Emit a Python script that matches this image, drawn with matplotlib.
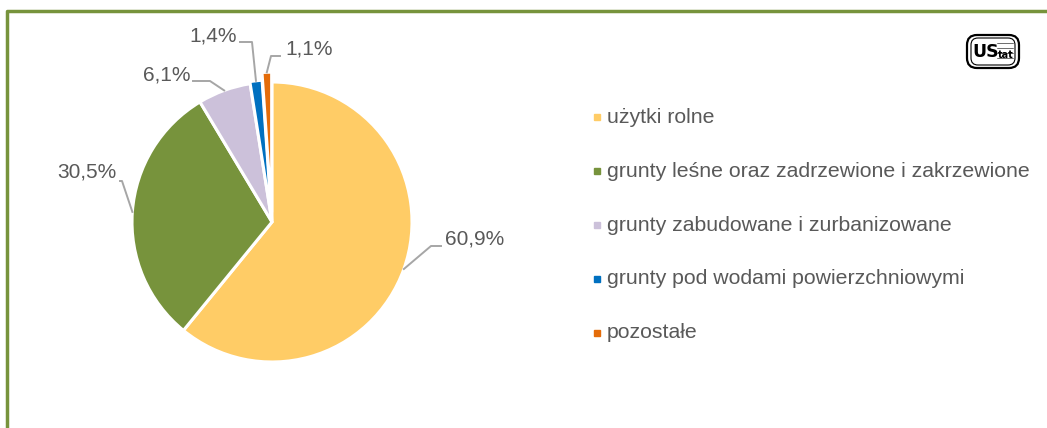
"""
Land use structure pie chart — recreated with matplotlib.
"""

import numpy as np
import matplotlib
matplotlib.use("Agg")
import matplotlib.pyplot as plt
from matplotlib.patches import FancyBboxPatch, Rectangle

plt.rcParams["font.family"] = ["Liberation Sans", "DejaVu Sans"]

# data
categories = [
    "użytki rolne",
    "grunty leśne oraz zadrzewione i zakrzewione",
    "grunty zabudowane i zurbanizowane",
    "grunty pod wodami powierzchniowymi",
    "pozostałe",
]
shares = [60.9, 30.5, 6.1, 1.4, 1.1]
value_labels = ["60,9%", "30,5%", "6,1%", "1,4%", "1,1%"]
colors = ["#FFCC66", "#77933C", "#CCC1DA", "#0070C0", "#E46C0A"]
explode = [0, 0, 0, 0.015, 0.07]   # fraction of radius

W, H = 1047, 428
TEXT = "#595959"
LEADER = "#A6A6A6"
FRAME = "#77933C"

fig = plt.figure(figsize=(W / 100, H / 100), dpi=100)
ax = fig.add_axes([0, 0, 1, 1])
ax.set_xlim(0, W)
ax.set_ylim(0, H)
ax.set_aspect("equal")
ax.axis("off")

# frame (top and left green lines)
ax.plot([7, 7, W], [0, H - 11, H - 11], color=FRAME, lw=2.5, solid_capstyle="butt")

cx, cy, r = 272, H - 222, 140
wedges, _ = ax.pie(
    shares, colors=colors, startangle=90, counterclock=False,
    radius=r, center=(cx, cy), explode=[e * r for e in explode],
    wedgeprops=dict(edgecolor="white", linewidth=2.2),
)
ax.set_xlim(0, W)
ax.set_ylim(0, H)

# leader line elbows and label anchors (image-pixel layout)
elbows = [
    [(431, 246), (441, 246)],
    [(122, 181), (120, 181)],
    [(210, 81), (193, 81)],
    [(252, 42), (240, 42)],
    [(271, 56), (280, 56)],
]
label_pos = [
    (445, 239, "left"),
    (117, 172, "right"),
    (190, 75, "right"),
    (237, 36, "right"),
    (285, 49, "left"),
]

for w, ex, el in zip(wedges, explode, elbows):
    mid = np.deg2rad((w.theta1 + w.theta2) / 2)
    rr = r * (1 + ex)
    ax0 = cx + rr * np.cos(mid)
    ay0 = cy + rr * np.sin(mid)
    xs = [ax0] + [p[0] for p in el]
    ys = [ay0] + [H - p[1] for p in el]
    ax.plot(xs, ys, color=LEADER, lw=1.4)

for lab, (tx, ty, ha) in zip(value_labels, label_pos):
    ax.text(tx, H - ty, lab, ha=ha, va="center", fontsize=15, color=TEXT)

# legend
for i, (cat, col) in enumerate(zip(categories, colors)):
    y = H - (117 + 54 * i)
    ax.plot(597, y, marker="s", ms=4.5, color=col, mec=col)
    ax.text(607, y, cat, ha="left", va="center", fontsize=15.3, color=TEXT)

# logo
ax.add_patch(FancyBboxPatch((967, H - 68), 52, 33, boxstyle="round,pad=0,rounding_size=10",
                            fc="white", ec="black", lw=1.6))
ax.add_patch(FancyBboxPatch((971, H - 65), 44, 27, boxstyle="round,pad=0,rounding_size=7",
                            fc="white", ec="black", lw=0.8))
for gy in range(4):
    ax.plot([997, 1013], [H - 43 - 5 * gy] * 2, color="black", lw=0.4)
ax.add_patch(Rectangle((999, H - 60), 14, 10, fc="white", ec="none"))
ax.text(972, H - 52, "US", ha="left", va="center", fontsize=12.5, fontweight="bold",
        family="DejaVu Sans Condensed", color="black")
ax.text(1006, H - 55, "tat", ha="center", va="center", fontsize=7, fontweight="bold",
        family="DejaVu Sans Condensed", color="black")

fig.savefig("out.png", dpi=100)
